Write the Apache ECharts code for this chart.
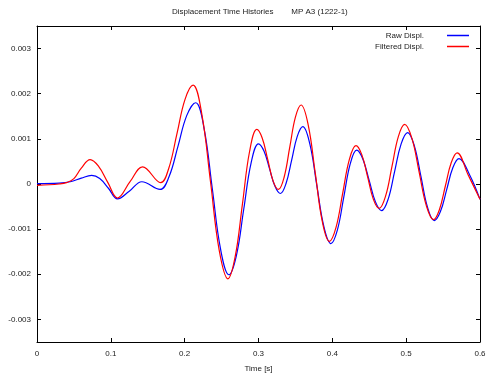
<!DOCTYPE html>
<html>
<head>
<meta charset="utf-8">
<script src="https://cdn.jsdelivr.net/npm/echarts@6/dist/echarts.min.js"></script>
<style>html,body{margin:0;padding:0;background:#fff}#c{width:486px;height:374px}</style>
</head>
<body>
<div id="c"></div>
<script>
const titleText = 'Displacement Time Histories        MP A3 (1222-1)';
const xAxisName = 'Time [s]';
const seriesNames = ['Raw Displ.', 'Filtered Displ.'];
const yTicks = [-0.003, -0.002, -0.001, 0, 0.001, 0.002, 0.003];
const xTicks = [0, 0.1, 0.2, 0.3, 0.4, 0.5, 0.6];

// [time s, displacement]
const rawDispl = [
  [0, 0.00001], [0.03, 0.00002], [0.045, 0.00005], [0.06, 0.00013], [0.074, 0.00019],
  [0.085, 0.00012], [0.097, -0.0001], [0.109, -0.00033], [0.125, -0.00016], [0.142, 0.00005],
  [0.1667, -0.00012], [0.1788, 0.00016], [0.191, 0.00084], [0.2029, 0.00152], [0.2149, 0.0018],
  [0.2262, 0.00124], [0.2374, -0.0001], [0.2487, -0.00145], [0.2599, -0.00201],
  [0.270, -0.00159], [0.280, -0.00056], [0.290, 0.00047], [0.300, 0.00089],
  [0.3074, 0.00073], [0.3149, 0.00034], [0.3223, -0.00005], [0.3297, -0.00021],
  [0.3373, 0.00001], [0.3449, 0.00053], [0.3524, 0.00105], [0.360, 0.00127],
  [0.3695, 0.00089], [0.379, -0.00003], [0.3885, -0.00094], [0.398, -0.00132],
  [0.4068, -0.00102], [0.4155, -0.00029], [0.4243, 0.00045], [0.433, 0.00075],
  [0.4414, 0.00055], [0.4499, 0.00008], [0.4583, -0.00039], [0.4667, -0.00059],
  [0.4755, -0.00034], [0.4844, 0.00028], [0.4932, 0.00089], [0.502, 0.00114],
  [0.511, 0.00085], [0.520, 0.00017], [0.529, -0.00052], [0.538, -0.00081],
  [0.5464, -0.00061], [0.5548, -0.00013], [0.5632, 0.00036], [0.5716, 0.00056],
  [0.586, 0.0002], [0.6, -0.00034]
];
const filteredDispl = [
  [0, -0.00003], [0.03, 0.0], [0.04, 0.00003], [0.05, 0.00012], [0.06, 0.00035], [0.072, 0.00054],
  [0.083, 0.0004], [0.096, 0.00003], [0.109, -0.00031], [0.126, 0.00005], [0.143, 0.00038],
  [0.1676, 0.00003], [0.1785, 0.00035], [0.1895, 0.00111], [0.2004, 0.00187], [0.2113, 0.00219],
  [0.2231, 0.00156], [0.235, 0.00005], [0.2468, -0.00147], [0.2586, -0.0021],
  [0.2684, -0.00161], [0.2782, -0.00045], [0.2879, 0.00072], [0.2977, 0.00121],
  [0.305, 0.00102], [0.3124, 0.00055], [0.3197, 0.00007], [0.327, -0.00012],
  [0.3347, 0.00015], [0.3424, 0.00082], [0.35, 0.00148], [0.3577, 0.00175],
  [0.3673, 0.00131], [0.3769, 0.00024], [0.3864, -0.00083], [0.396, -0.00127],
  [0.405, -0.00096], [0.414, -0.00021], [0.423, 0.00054], [0.432, 0.00085],
  [0.4399, 0.00065], [0.4478, 0.00016], [0.4556, -0.00034], [0.4635, -0.00054],
  [0.4721, -0.00027], [0.4808, 0.00039], [0.4894, 0.00105], [0.498, 0.00132],
  [0.5078, 0.00101], [0.5175, 0.00027], [0.5273, -0.00048], [0.537, -0.00079],
  [0.545, -0.00057], [0.553, -0.00005], [0.561, 0.00047], [0.569, 0.00069],
  [0.584, 0.0002], [0.6, -0.00034]
];

const FONT = 'Liberation Sans, Arial, sans-serif';
const TXT = '#222';
const chart = echarts.init(document.getElementById('c'), null, {renderer: 'canvas'});
const axisLine = {show: true, onZero: false, lineStyle: {color: '#000', width: 1}};
const tick = {show: true, inside: true, length: 4, lineStyle: {color: '#000', width: 1}};
const legendBase = {
  orient: 'vertical', align: 'right', right: 12, icon: 'rect',
  itemWidth: 22, itemHeight: 1.5, itemGap: 0, selectedMode: false,
  textStyle: {fontFamily: FONT, fontSize: 8, color: TXT, lineHeight: 11, padding: [0, 18, 0, 0]}
};
chart.setOption({
  animation: false,
  backgroundColor: '#fff',
  title: {
    text: titleText, left: 167, top: 3,
    textStyle: {fontFamily: FONT, fontSize: 8, fontWeight: 'normal', color: TXT}
  },
  legend: [
    Object.assign({}, legendBase, {data: [seriesNames[0]], top: 25}),
    Object.assign({}, legendBase, {data: [seriesNames[1]], top: 36})
  ],
  grid: {left: 37, right: 6, top: 26, bottom: 32, containLabel: false, outerBoundsMode: 'none'},
  xAxis: [{
    type: 'value', min: 0, max: 0.6, interval: 0.1,
    name: xAxisName, nameLocation: 'middle', nameGap: 23,
    nameTextStyle: {fontFamily: FONT, fontSize: 8, color: TXT},
    axisLine: axisLine, axisTick: tick, splitLine: {show: false},
    axisLabel: {fontFamily: FONT, fontSize: 8, color: TXT, margin: 8,
      customValues: xTicks,
      formatter: v => v === 0 ? '0' : v.toFixed(1)}
  }, {
    type: 'value', position: 'top', min: 0, max: 0.6, interval: 0.1,
    axisLine: axisLine, axisTick: Object.assign({}, tick, {customValues: xTicks}),
    axisLabel: {show: false}, splitLine: {show: false}
  }],
  yAxis: [{
    type: 'value', min: -0.0035, max: 0.0035,
    axisLine: axisLine, splitLine: {show: false},
    axisTick: Object.assign({}, tick, {customValues: yTicks}),
    axisLabel: {fontFamily: FONT, fontSize: 8, color: TXT, margin: 6,
      customValues: yTicks, formatter: v => String(v)}
  }, {
    type: 'value', position: 'right', min: -0.0035, max: 0.0035,
    axisLine: axisLine, splitLine: {show: false},
    axisTick: Object.assign({}, tick, {customValues: yTicks}),
    axisLabel: {show: false}
  }],
  series: [{
    name: seriesNames[0], type: 'line', data: rawDispl, smooth: 0.4,
    showSymbol: false, symbol: 'none', color: '#0000ff',
    lineStyle: {color: '#0000ff', width: 1.2}
  }, {
    name: seriesNames[1], type: 'line', data: filteredDispl, smooth: 0.4,
    showSymbol: false, symbol: 'none', color: '#ff0000',
    lineStyle: {color: '#ff0000', width: 1.2}
  }]
});
</script>
</body>
</html>
